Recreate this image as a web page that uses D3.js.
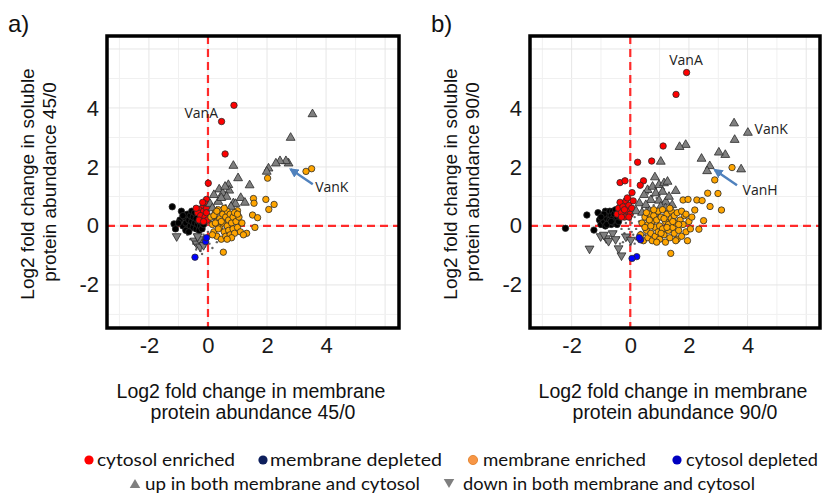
<!DOCTYPE html>
<html>
<head>
<meta charset="utf-8">
<script src="https://cdn.jsdelivr.net/npm/d3@7"></script>
<style>
  body { margin: 0; background: #fff; }
  svg { display: block; font-family: "Liberation Sans", Arial, sans-serif; }
</style>
</head>
<body>
<svg id="chart" width="823" height="494"></svg>
<script>
// ---- panel a (45/0) ----
const aRed = [[0.88,4.09],[0.46,3.54],[0.58,2.44],[0.01,1.45],[-0.05,0.9],[-0.1,0.75],[-0.2,0.6],[-0.3,0.55],[-0.35,0.45],[-0.15,0.5],[-0.05,0.6],[-0.25,0.35],[-0.1,0.3],[-0.02,0.2],[-0.3,0.2],[-0.15,0.15],[-0.4,0.6],[-0.05,0.45],[-0.18,0.8]];
const aBlack = [[-1.21,0.65],[-1.15,0.07],[-1.1,-0.1],[-0.95,0.2],[-0.9,0.5],[-0.85,0.0],[-0.8,0.3],[-0.75,0.1],[-0.7,0.4],[-0.7,-0.1],[-0.65,0.2],[-0.6,0.0],[-0.6,0.35],[-0.55,0.15],[-0.5,-0.05],[-0.5,0.3],[-0.45,0.1],[-0.4,0.25],[-0.4,-0.1],[-0.35,0.05],[-0.3,0.15],[-0.3,-0.15],[-0.25,0.0],[-0.2,0.1],[-0.2,-0.1],[-0.15,0.05],[-0.85,0.35],[-1.0,0.1],[-0.55,0.5],[-0.75,-0.15],[-0.65,-0.2],[-0.45,0.45]];
const aOrange = [[3.51,1.94],[3.32,1.85],[2.02,1.62],[1.96,0.9],[2.24,0.73],[2.06,0.56],[1.54,0.93],[1.56,0.77],[1.51,0.37],[1.68,0.28],[1.59,-0.05],[1.0,0.52],[0.52,-0.89],[1.31,-0.25],
  [0.1,0.3],[0.15,0.05],[0.2,-0.2],[0.25,0.45],[0.3,0.15],[0.3,-0.35],[0.35,0.55],[0.4,0.25],[0.4,-0.05],[0.45,-0.45],[0.5,0.4],[0.5,0.1],[0.55,-0.2],[0.6,0.3],[0.6,-0.35],[0.65,0.5],[0.65,0.0],[0.7,0.2],[0.7,-0.15],[0.75,0.4],[0.75,-0.3],[0.8,0.1],[0.85,0.3],[0.85,-0.1],[0.9,-0.25],[0.9,0.45],[0.95,0.15],[1.0,-0.05],[1.05,0.3],[1.1,-0.2],[1.15,0.1],[1.2,-0.3],[0.2,0.35],[0.35,-0.1],[0.55,0.6],[0.45,0.15],[0.8,-0.4],[0.3,0.5],[0.15,-0.3],[1.0,0.4],[0.65,-0.45],[0.25,0.1]];
const aBlue = [[-0.44,-1.06],[-0.08,-0.53],[-0.05,-0.4]];
const aUp = [[3.54,3.79],[2.8,2.99],[2.73,2.12],[2.64,2.2],[2.44,2.2],[2.3,2.12],[2.05,1.95],[1.99,1.84],[0.86,2.04],[1.02,1.62],[1.41,1.38],[1.11,0.95],[0.69,1.39],[0.38,1.24],[0.72,1.2],[0.2,1.05],[0.5,1.11],[0.35,0.82],[0.86,0.77],[0.63,0.99],[0.07,0.75],[0.29,0.49],[0.5,0.52],[0.93,0.75],[0.18,0.32],[0.78,0.65],[0.58,1.33],[1.25,0.79],[0.45,0.95],[0.15,0.6]];
const aDown = [[-1.06,-0.35],[-0.45,-0.5],[-0.38,-0.6],[-0.27,-0.7],[-0.2,-0.55],[-0.3,-0.45],[-0.15,-0.65],[-0.35,-0.35]];
const aGrey = [[-0.7,-0.3],[-0.6,-0.45],[-0.5,-0.6],[-0.45,-0.3],[-0.4,-0.5],[-0.35,-0.7],[-0.3,-0.4],[-0.25,-0.85],[-0.2,-0.55],[-0.15,-0.3],[-0.1,-0.7],[-0.05,-0.45],[0.0,-0.2],[0.05,-0.6],[0.1,-0.35],[0.15,-0.75],[-0.55,-0.15],[-0.3,-0.2],[0.2,0.0],[0.1,0.15],[-0.05,0.05],[0.3,-0.55],[0.4,0.6],[0.55,0.9],[0.6,0.7],[0.25,0.8],[0.15,0.55],[-0.2,-0.95],[-0.4,-0.8],[0.05,0.4],[0.5,1.0],[0.8,0.7]];

// ---- panel b (90/0) ----
const bRed = [[1.92,5.2],[1.56,4.46],[1.12,2.71],[0.25,2.16],[0.73,2.2],[-0.35,1.47],[-0.18,1.53],[0.45,1.53],[0.34,1.38],[0.06,1.13],[-0.45,0.4],[-0.4,0.6],[-0.35,0.8],[-0.3,0.45],[-0.25,0.65],[-0.2,0.3],[-0.15,0.85],[-0.1,0.5],[-0.05,0.7],[0.0,0.4],[0.05,0.6],[-0.2,0.55],[-0.1,0.95],[0.1,0.85],[-0.3,0.3],[-0.05,0.3]];
const bBlack = [[-2.21,-0.08],[-1.48,0.37],[-1.24,-0.14],[-1.1,0.45],[-1.05,0.2],[-1.0,0.05],[-0.95,0.35],[-0.9,0.15],[-0.85,0.5],[-0.85,0.0],[-0.8,0.25],[-0.75,0.4],[-0.75,0.1],[-0.7,0.2],[-0.7,0.5],[-0.65,0.05],[-0.65,0.35],[-0.6,0.25],[-0.6,0.5],[-0.55,0.1],[-0.55,0.4],[-0.5,0.2],[-0.5,0.55],[-0.45,0.3],[-0.45,0.05],[-0.4,0.15],[-0.4,0.45],[-0.35,0.3],[-0.9,0.4],[-1.0,0.3],[-0.8,0.05],[-0.65,0.15]];
const bOrange = [[3.47,1.98],[2.88,1.56],[2.64,1.11],[2.99,1.1],[2.72,0.66],[3.11,0.54],[2.27,0.88],[2.45,0.86],[2.2,0.54],[2.5,0.18],[2.34,-0.11],[1.38,-0.93],[1.8,0.88],[1.97,0.9],
  [0.35,-0.3],[0.4,0.1],[0.45,-0.5],[0.5,0.3],[0.55,-0.15],[0.6,0.05],[0.6,-0.4],[0.65,0.4],[0.7,-0.25],[0.75,0.15],[0.75,-0.5],[0.8,0.35],[0.85,-0.05],[0.85,-0.35],[0.9,0.2],[0.95,0.5],[0.95,-0.2],[1.0,0.0],[1.0,-0.45],[1.05,0.3],[1.1,-0.1],[1.1,0.55],[1.15,-0.3],[1.2,0.15],[1.2,-0.55],[1.25,0.4],[1.3,-0.15],[1.3,0.05],[1.35,-0.4],[1.4,0.25],[1.4,0.5],[1.45,-0.05],[1.5,-0.25],[1.5,0.35],[1.55,0.1],[1.6,-0.45],[1.6,0.45],[1.65,-0.15],[1.7,0.2],[1.75,-0.35],[1.8,0.05],[1.85,0.35],[1.9,-0.2],[1.95,-0.5],[2.0,0.15],[2.05,-0.1],[0.5,-0.05],[0.65,0.2],[0.9,-0.55],[1.15,0.25],[1.35,0.6],[1.55,-0.5],[1.75,0.5],[0.8,0.55],[1.05,-0.25],[1.25,-0.05],[1.45,0.15],[1.65,0.05],[0.55,0.45],[0.7,0.0],[1.9,0.4],[2.1,0.3]];
const bBlue = [[0.35,-0.47],[0.22,-1.04],[0.06,-1.1],[0.3,-0.4]];
const bUp = [[3.54,3.48],[4.01,3.16],[3.56,2.92],[3.78,1.92],[3.24,2.41],[3.02,2.49],[2.43,2.28],[2.71,2.03],[2.62,1.86],[1.89,2.75],[1.68,2.68],[1.04,2.18],[0.84,1.65],[0.59,1.22],[0.76,1.33],[0.98,1.39],[1.15,1.45],[1.27,1.5],[1.55,1.19],[0.47,1.05],[0.7,0.88],[0.98,0.86],[1.21,0.82],[1.32,0.99],[0.87,1.11],[1.1,1.16],[0.31,0.77],[0.53,0.71],[1.43,0.71],[1.04,0.66],[0.2,0.5],[0.4,0.45],[0.65,0.5],[0.85,0.4],[1.2,0.6]];
const bDown = [[-1.39,-0.77],[-1.01,-0.35],[-0.82,-0.42],[-0.74,-0.51],[-0.4,-0.76],[-0.3,-1.0],[-0.6,-0.25],[-0.15,-0.36],[0.02,-0.47],[-0.9,-0.3],[-0.5,-0.45]];
const bGrey = [[-0.5,-0.2],[-0.4,-0.4],[-0.3,-0.1],[-0.25,-0.55],[-0.2,-0.25],[-0.1,-0.45],[-0.05,-0.1],[0.0,-0.65],[0.05,0.1],[0.1,-0.3],[0.15,0.3],[0.2,-0.1],[0.25,0.5],[0.3,0.15],[0.35,-0.2],[0.4,0.7],[0.45,0.3],[0.5,-0.3],[0.55,0.6],[0.6,0.35],[0.65,0.9],[0.7,0.55],[0.75,1.0],[0.8,0.7],[0.9,0.95],[1.0,1.1],[-0.15,0.1],[0.1,0.45],[0.2,-0.45],[0.3,0.85],[0.0,0.2],[-0.35,-0.6],[0.15,-0.6],[0.45,0.05],[0.35,0.45],[0.55,0.2],[0.85,0.25],[0.25,-0.3],[-0.1,0.25],[0.05,-0.2],[1.15,1.25],[0.6,1.1]];

// tick labels and titles
const tickValues = [-2, 0, 2, 4];
const gridValues = [-3, -2, -1, 0, 1, 2, 3, 4, 5, 6];
const legendRow1 = ['cytosol enriched', 'membrane depleted', 'membrane enriched', 'cytosol depleted'];
const legendRow2 = ['up in both membrane and cytosol', 'down in both membrane and cytosol'];

const panels = [
  { tag: 'a)', left: 107, right: 399, ratio: '45/0',
    red: aRed, black: aBlack, orange: aOrange, blue: aBlue, up: aUp, down: aDown, grey: aGrey,
    labels: [{ t: 'VanA', x: 0.34, y: 3.66, anchor: 'end' }, { t: 'VanK', x: 3.63, y: 1.15, anchor: 'start' }],
    arrow: [[3.55, 1.41], [2.8, 1.92]] },
  { tag: 'b)', left: 530, right: 820, ratio: '90/0',
    red: bRed, black: bBlack, orange: bOrange, blue: bBlue, up: bUp, down: bDown, grey: bGrey,
    labels: [{ t: 'VanA', x: 1.9, y: 5.46, anchor: 'middle' }, { t: 'VanK', x: 4.24, y: 3.12, anchor: 'start' }, { t: 'VanH', x: 3.83, y: 1.05, anchor: 'start' }],
    arrow: [[3.64, 1.38], [2.88, 1.9]] }
];

const plotTop = 36, plotBottom = 328;
const svg = d3.select('#chart');

svg.append('defs').append('marker')
  .attr('id', 'arrowhead')
  .attr('viewBox', '0 0 10 10')
  .attr('refX', 8).attr('refY', 5)
  .attr('markerWidth', 4).attr('markerHeight', 4)
  .attr('orient', 'auto')
  .append('path').attr('d', 'M0,0 L10,5 L0,10 z').attr('fill', '#4F81BD');

const triUp = d3.symbol().type(d3.symbolTriangle).size(34)();
const strokeCol = '#2a2a2a';

panels.forEach(p => {
  const x = d3.scaleLinear().domain([-3.42, 6.47]).range([p.left, p.right]);
  const y = d3.scaleLinear().domain([-3.46, 6.44]).range([plotBottom, plotTop]);
  const g = svg.append('g');

  // grid
  g.selectAll('.gx').data(gridValues).enter().append('line')
    .attr('x1', d => x(d)).attr('x2', d => x(d)).attr('y1', plotTop).attr('y2', plotBottom)
    .attr('stroke', d => d % 2 === 0 ? '#e6e6e6' : '#f0f0f0').attr('stroke-width', 1);
  g.selectAll('.gy').data(gridValues).enter().append('line')
    .attr('y1', d => y(d)).attr('y2', d => y(d)).attr('x1', p.left).attr('x2', p.right)
    .attr('stroke', d => d % 2 === 0 ? '#e6e6e6' : '#f0f0f0').attr('stroke-width', 1);

  // dashed zero lines
  g.append('line').attr('x1', x(0)).attr('x2', x(0)).attr('y1', plotTop).attr('y2', plotBottom)
    .attr('stroke', '#ff2a2a').attr('stroke-width', 2.2).attr('stroke-dasharray', '8,5');
  g.append('line').attr('y1', y(0)).attr('y2', y(0)).attr('x1', p.left).attr('x2', p.right)
    .attr('stroke', '#ff2a2a').attr('stroke-width', 2.2).attr('stroke-dasharray', '8,5');

  // points
  g.selectAll('.grey').data(p.grey).enter().append('circle')
    .attr('cx', d => x(d[0])).attr('cy', d => y(d[1])).attr('r', 1.2).attr('fill', '#666');

  const dots = (data, fill) => g.append('g').selectAll('circle').data(data).enter().append('circle')
    .attr('cx', d => x(d[0])).attr('cy', d => y(d[1])).attr('r', 3.2)
    .attr('fill', fill).attr('stroke', strokeCol).attr('stroke-width', 0.8);

  dots(p.black, '#000');
  dots(p.red, '#ff0000');

  g.append('g').selectAll('path').data(p.up).enter().append('path')
    .attr('d', triUp)
    .attr('transform', d => `translate(${x(d[0])},${y(d[1])})`)
    .attr('fill', '#7f7f7f').attr('stroke', strokeCol).attr('stroke-width', 0.8);
  g.append('g').selectAll('path').data(p.down).enter().append('path')
    .attr('d', triUp)
    .attr('transform', d => `translate(${x(d[0])},${y(d[1])}) rotate(180)`)
    .attr('fill', '#7f7f7f').attr('stroke', strokeCol).attr('stroke-width', 0.8);

  dots(p.orange, '#ffa500');
  dots(p.blue, '#0000ff');

  // annotations
  g.selectAll('.lab').data(p.labels).enter().append('text')
    .attr('x', d => x(d.x)).attr('y', d => y(d.y))
    .attr('text-anchor', d => d.anchor)
    .style('font-family', '"Open Sans", sans-serif').style('font-size', '14px').attr('fill', '#222')
    .text(d => d.t);
  g.append('line')
    .attr('x1', x(p.arrow[0][0])).attr('y1', y(p.arrow[0][1]))
    .attr('x2', x(p.arrow[1][0])).attr('y2', y(p.arrow[1][1]))
    .attr('stroke', '#4F81BD').attr('stroke-width', 2.4)
    .attr('marker-end', 'url(#arrowhead)');

  // border
  g.append('rect').attr('x', p.left).attr('y', plotTop)
    .attr('width', p.right - p.left).attr('height', plotBottom - plotTop)
    .attr('fill', 'none').attr('stroke', '#000').attr('stroke-width', 3.5);

  // axes (plain hyphen minus, as in the figure)
  const fmt = d => String(d);
  const xAxis = d3.axisBottom(x).tickValues(tickValues).tickFormat(fmt).tickSize(0).tickPadding(9);
  const yAxis = d3.axisLeft(y).tickValues(tickValues).tickFormat(fmt).tickSize(0).tickPadding(8);
  const gx = g.append('g').attr('transform', `translate(0,${plotBottom})`).call(xAxis);
  const gy = g.append('g').attr('transform', `translate(${p.left},0)`).call(yAxis);
  [gx, gy].forEach(a => {
    a.select('.domain').remove();
    a.selectAll('text').style('font-size', '22px').style('font-family', '"Liberation Sans", Arial, sans-serif').attr('fill', '#1a1a1a');
  });

  // axis titles
  const cx = (p.left + p.right) / 2 - 2;
  const xt = g.append('text').attr('text-anchor', 'middle').style('font-size', '19.5px').attr('fill', '#111');
  xt.append('tspan').attr('x', cx).attr('y', 398).text('Log2 fold change in membrane');
  xt.append('tspan').attr('x', cx + 2).attr('y', 419).text(`protein abundance ${p.ratio}`);

  const cy = (plotTop + plotBottom) / 2;
  const yt = g.append('text').attr('text-anchor', 'middle').style('font-size', '19px').attr('fill', '#111')
    .attr('transform', 'rotate(-90)');
  yt.append('tspan').attr('x', -cy - 2).attr('y', p.left - 73).text('Log2 fold change in soluble');
  yt.append('tspan').attr('x', -cy).attr('y', p.left - 51).text(`protein abundance ${p.ratio}`);

  // panel tag
  svg.append('text').attr('x', p.left - 99).attr('y', 32)
    .style('font-size', '24px').attr('fill', '#111').text(p.tag);
});

// legend
const legendFont = 'Lato, "Open Sans", sans-serif';
const row1 = [
  { label: legendRow1[0], color: '#ff0000', mx: 89, tx: 97, w: 138 },
  { label: legendRow1[1], color: '#0d1f5c', mx: 263, tx: 270, w: 172 },
  { label: legendRow1[2], color: '#f79646', mx: 473, tx: 483, w: 163 },
  { label: legendRow1[3], color: '#0000c0', mx: 677, tx: 686, w: 132 }
];
const row2 = [
  { label: legendRow2[0], rot: 0, mx: 135, tx: 145, w: 275 },
  { label: legendRow2[1], rot: 180, mx: 449, tx: 463, w: 292 }
];
const lg = svg.append('g');
lg.selectAll('circle').data(row1).enter().append('circle')
  .attr('cx', d => d.mx).attr('cy', 460).attr('r', 4.6)
  .attr('fill', d => d.color).attr('stroke', d => d.color === '#f79646' ? '#e07a20' : 'none').attr('stroke-width', 0.8);
lg.selectAll('.t1').data(row1).enter().append('text')
  .attr('x', d => d.tx).attr('y', 466)
  .attr('textLength', d => d.w).attr('lengthAdjust', 'spacingAndGlyphs')
  .style('font-family', legendFont).style('font-size', '18px').attr('fill', '#111')
  .text(d => d.label);
lg.selectAll('path').data(row2).enter().append('path')
  .attr('d', d3.symbol().type(d3.symbolTriangle).size(48)())
  .attr('transform', d => `translate(${d.mx},${d.rot ? 482 : 485}) rotate(${d.rot})`)
  .attr('fill', '#7f7f7f');
lg.selectAll('.t2').data(row2).enter().append('text')
  .attr('x', d => d.tx).attr('y', 490)
  .attr('textLength', d => d.w).attr('lengthAdjust', 'spacingAndGlyphs')
  .style('font-family', legendFont).style('font-size', '18px').attr('fill', '#111')
  .text(d => d.label);
</script>
</body>
</html>
